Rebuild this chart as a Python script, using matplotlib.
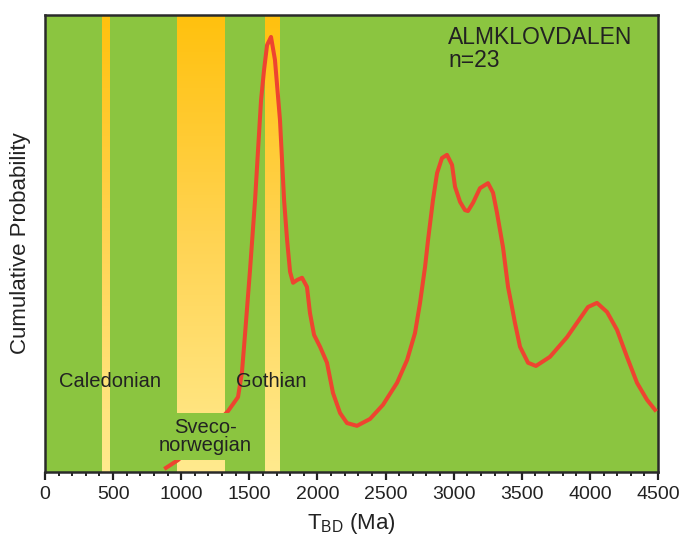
import numpy as np
import matplotlib.pyplot as plt
from matplotlib.colors import LinearSegmentedColormap

plt.rcParams['font.family'] = ['Liberation Sans', 'DejaVu Sans']

# age (Ma) and relative probability
age = [888, 976, 1138, 1343, 1417, 1446, 1468, 1505, 1542, 1564, 1586, 1608,
       1630, 1659, 1688, 1725, 1755, 1777, 1799, 1821, 1850, 1887, 1923, 1945,
       1975, 2019, 2070, 2114, 2166, 2217, 2290, 2386, 2481, 2584, 2658, 2716,
       2753, 2790, 2812, 2848, 2878, 2914, 2951, 2988, 3010, 3047, 3083, 3105,
       3142, 3193, 3252, 3289, 3318, 3362, 3399, 3428, 3450, 3487, 3546, 3604,
       3707, 3832, 3986, 4052, 4126, 4199, 4272, 4346, 4419, 4478]
prob = [0.009, 0.026, 0.070, 0.133, 0.164, 0.219, 0.300, 0.442, 0.595, 0.705,
        0.814, 0.880, 0.934, 0.952, 0.902, 0.770, 0.595, 0.508, 0.438, 0.414,
        0.420, 0.425, 0.405, 0.348, 0.300, 0.274, 0.239, 0.173, 0.129, 0.107,
        0.101, 0.116, 0.147, 0.195, 0.245, 0.304, 0.370, 0.449, 0.508, 0.595,
        0.654, 0.687, 0.694, 0.672, 0.624, 0.591, 0.573, 0.571, 0.589, 0.621,
        0.632, 0.611, 0.567, 0.492, 0.405, 0.361, 0.326, 0.274, 0.239, 0.232,
        0.252, 0.295, 0.361, 0.370, 0.350, 0.311, 0.252, 0.195, 0.158, 0.136]

# orogenic events (Ma)
events = ['Caledonian', 'Sveco-\nnorwegian', 'Gothian']
ev_start = [420, 970, 1615]
ev_end = [475, 1320, 1720]
ev_label_x = [477, 1175, 1663]
ev_label_y = [0.198, 0.078, 0.198]

green = '#8BC540'
band_cmap = LinearSegmentedColormap.from_list('band', ['#FFEA8E', '#FFD454', '#FFC10E'])

fig = plt.figure(figsize=(6.85, 5.42), dpi=100)
ax = fig.add_axes([0.0657, 0.1292, 0.8949, 0.8431])
ax.set_facecolor(green)

grad = np.linspace(0, 1, 256).reshape(-1, 1)
for s, e in zip(ev_start, ev_end):
    ax.imshow(grad, cmap=band_cmap, origin='lower', aspect='auto',
              extent=[s, e, 0, 1], zorder=1)

ax.plot(age, prob, color='#EE4430', lw=2.9, zorder=3, solid_joinstyle='round')

for i, name in enumerate(events):
    if i == 1:
        ax.text(ev_label_x[i], ev_label_y[i], name, fontsize=14.5, color='#222222',
                ha='center', va='center', linespacing=0.95, zorder=5,
                bbox=dict(boxstyle='square,pad=0.25', fc=green, ec='none'))
    else:
        ax.text(ev_label_x[i], ev_label_y[i], name, fontsize=14.5, color='#222222',
                ha='center', va='center', zorder=4)

ax.text(0.658, 0.975, 'ALMKLOVDALEN\nn=23', transform=ax.transAxes, fontsize=16.5,
        color='#222222', ha='left', va='top', linespacing=1.0)

ax.set_xlim(0, 4500)
ax.set_ylim(0, 1)
ax.set_xticks(np.arange(0, 4501, 500))
ax.set_xticks(np.arange(0, 4501, 100), minor=True)
ax.set_yticks([])
ax.tick_params(axis='x', which='major', direction='out', length=6, width=1.6,
               labelsize=14, pad=4, color='#222222', labelcolor='#222222')
ax.tick_params(axis='x', which='minor', direction='out', length=3, width=1.4, color='#222222')
for sp in ax.spines.values():
    sp.set_linewidth(1.8)
    sp.set_color('#2a2a2a')

ax.set_xlabel(r'T$_{\mathregular{BD}}$ (Ma)', fontsize=16, color='#222222', labelpad=6)
ax.set_ylabel('Cumulative Probability', fontsize=16, color='#222222', labelpad=10)

fig.savefig('out.png', dpi=100)
